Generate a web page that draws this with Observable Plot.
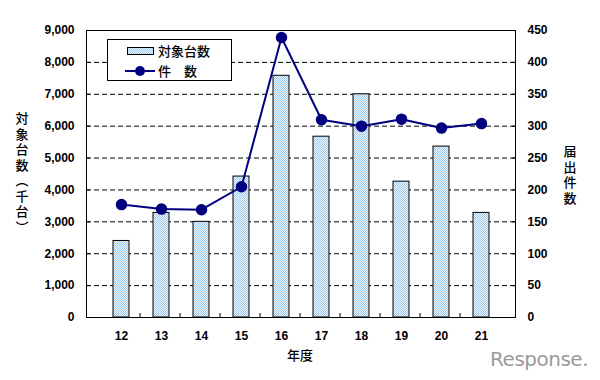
<!DOCTYPE html>
<html><head><meta charset="utf-8">
<script src="https://cdn.jsdelivr.net/npm/d3@7"></script>
<script src="https://cdn.jsdelivr.net/npm/@observablehq/plot@0.6"></script>
<style>
html,body{margin:0;padding:0;background:#fff;}
#chart{width:600px;height:380px;}
</style></head>
<body><div id="chart"></div>
<script>
const years = ["12","13","14","15","16","17","18","19","20","21"];
const units = [2400,3280,3000,4420,7580,5670,7000,4260,5360,3280];   // 対象台数（千台）
const counts = [177,170,169,205,439,310,300,311,297,304];            // 届出件数
const leftTicks = [0,1000,2000,3000,4000,5000,6000,7000,8000,9000];
const rightMax = 450, leftMax = 9000, k = leftMax / rightMax;

const data = years.map((y, i) => ({year: y, units: units[i], count: counts[i]}));
const ML = 86, MR = 85, W = 600;
const bw = (W - ML - MR) / years.length;
const tickFont = {fontSize: 12, fontWeight: "bold", fontFamily: "'Liberation Sans', Arial, sans-serif"};

const chart = Plot.plot({
  width: 600, height: 380,
  marginLeft: ML, marginRight: MR, marginTop: 30, marginBottom: 63,
  style: {fontFamily: "'Liberation Sans', Arial, sans-serif", background: "#fff", overflow: "visible"},
  x: {domain: years, padding: 0.6, axis: null, label: null},
  y: {domain: [0, leftMax], axis: null, label: null},
  marks: [
    Plot.gridY(leftTicks.filter(d => d > 0 && d < leftMax), {stroke: "#000", strokeOpacity: 1, strokeDasharray: "5,3", strokeWidth: 1}),
    Plot.barY(data, {x: "year", y: "units", fill: "url(#dither)", stroke: "#000", strokeWidth: 1}),
    Plot.line(data, {x: "year", y: d => d.count * k, stroke: "#000080", strokeWidth: 2}),
    Plot.dot(data, {x: "year", y: d => d.count * k, r: 5, fill: "#000080", stroke: "#000080"}),
    Plot.frame({stroke: "#000", strokeWidth: 1}),
    // left axis (inward ticks)
    Plot.axisY(leftTicks, {anchor: "left", label: null, tickSize: -4, tickPadding: 16, tickFormat: d3.format(","), ...tickFont, fill: "#000", stroke: "#000"}),
    // right axis (inward ticks)
    Plot.axisY(leftTicks, {anchor: "right", label: null, tickSize: -4, tickPadding: 16, tickFormat: d => String(d / k), ...tickFont, fill: "#000", stroke: "#000"}),
    // x axis labels
    Plot.axisX(years, {anchor: "bottom", label: null, tickSize: 0, tickPadding: 14, ...tickFont, fill: "#000"}),
    // between-category ticks
    Plot.axisX(years.slice(1), {anchor: "bottom", label: null, tickSize: -4, tickFormat: () => "", dx: -bw / 2, stroke: "#000"})
  ]
});

const svg = d3.select(chart);
const defs = svg.insert("defs", ":first-child");
const pat = defs.append("pattern").attr("id", "dither").attr("patternUnits", "userSpaceOnUse")
  .attr("width", 2).attr("height", 2);
pat.append("rect").attr("width", 2).attr("height", 2).attr("fill", "#eef7fd");
pat.append("rect").attr("x", 0).attr("y", 0).attr("width", 1).attr("height", 1).attr("fill", "#9dcaee");
pat.append("rect").attr("x", 1).attr("y", 1).attr("width", 1).attr("height", 1).attr("fill", "#9dcaee");

const jp = "'Noto Sans CJK JP', sans-serif";
// legend
const lg = svg.append("g").attr("text-anchor", "start");
lg.append("rect").attr("x", 107.5).attr("y", 39.5).attr("width", 124).attr("height", 41)
  .attr("fill", "#fff").attr("stroke", "#000");
lg.append("rect").attr("x", 127.5).attr("y", 47.5).attr("width", 26).attr("height", 7)
  .attr("fill", "url(#dither)").attr("stroke", "#000");
lg.append("text").attr("x", 158).attr("y", 56).attr("font-family", jp).attr("font-size", 13)
  .attr("font-weight", 500).attr("text-anchor", "start").text("対象台数");
lg.append("line").attr("x1", 125).attr("x2", 155).attr("y1", 71).attr("y2", 71)
  .attr("stroke", "#000080").attr("stroke-width", 2);
lg.append("circle").attr("cx", 140).attr("cy", 71).attr("r", 5).attr("fill", "#000080");
lg.append("text").attr("x", 158).attr("y", 76).attr("font-family", jp).attr("font-size", 13)
  .attr("font-weight", 500).attr("text-anchor", "start").text("件　数");

// axis titles
svg.append("text").attr("x", 22).attr("y", 174).attr("font-family", jp).attr("font-size", 13)
  .attr("font-weight", 500).attr("text-anchor", "middle")
  .style("writing-mode", "vertical-rl").style("letter-spacing", "2.5px").text("対象台数（千台）");
svg.append("text").attr("x", 570).attr("y", 176).attr("font-family", jp).attr("font-size", 13)
  .attr("font-weight", 500).attr("text-anchor", "middle")
  .style("writing-mode", "vertical-rl").style("letter-spacing", "2.5px").text("届出件数");
svg.append("text").attr("x", 300).attr("y", 360).attr("font-family", jp).attr("font-size", 13)
  .attr("font-weight", 500).attr("text-anchor", "middle").text("年度");
// watermark
svg.append("text").attr("x", 588).attr("y", 366).attr("font-family", "'DejaVu Sans', sans-serif")
  .attr("font-size", 20).attr("text-anchor", "end").attr("fill", "#9a9a9a").attr("letter-spacing", "-0.5px")
  .text("Response.");

document.getElementById("chart").appendChild(chart);
</script>
</body></html>
